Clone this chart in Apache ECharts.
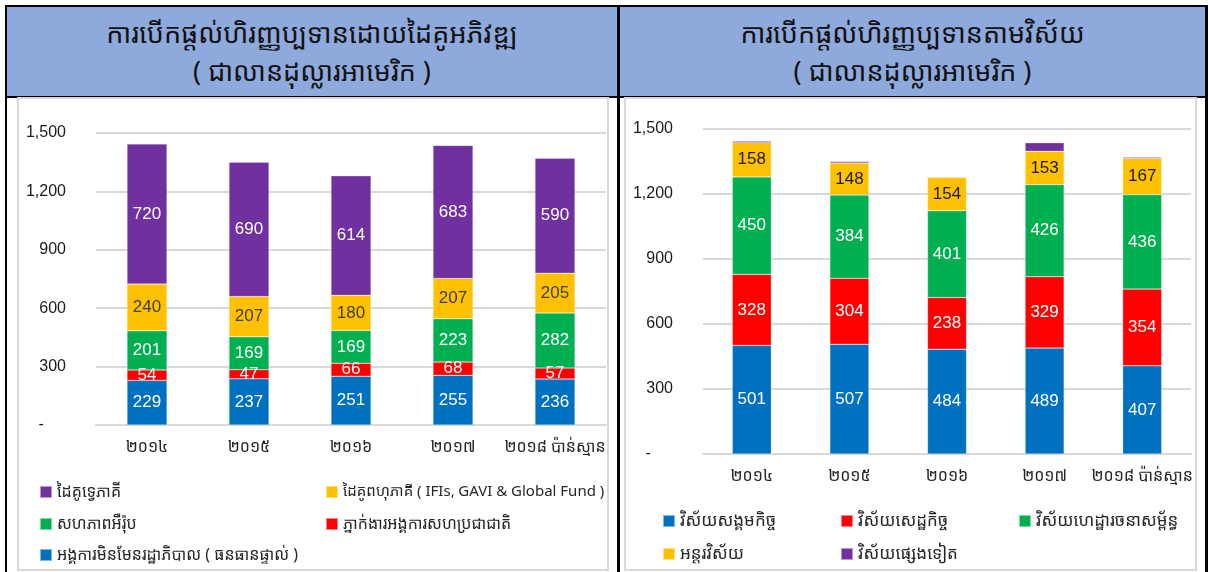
<!DOCTYPE html>
<html>
<head>
<meta charset="utf-8">
<script src="https://cdn.jsdelivr.net/npm/echarts@6/dist/echarts.min.js"></script>
<style>
body { margin: 0; width: 1208px; height: 572px; background: #fff; position: relative; overflow: hidden;
  font-family: "Noto Sans Khmer", "Khmer OS", "DejaVu Sans", sans-serif; }
.blk { position: absolute; background: #000; }
.head { position: absolute; top: 7px; height: 89px; background: #8EA9DB; text-align: center;
  color: #111; font-size: 27px; line-height: 38px; padding-top: 7px; box-sizing: border-box; }
.box { position: absolute; top: 97px; height: 474px; border: 2px solid #d9d9d9; background: #fff; box-sizing: border-box; }
#main { position: absolute; left: 0; top: 0; width: 1208px; height: 572px; }
</style>
</head>
<body>
<!-- frame -->
<div class="blk" style="left:5px;top:5px;width:1203px;height:2px"></div>
<div class="blk" style="left:5px;top:5px;width:2px;height:567px"></div>
<div class="blk" style="left:617px;top:5px;width:3px;height:567px"></div>
<div class="blk" style="left:1205px;top:5px;width:3px;height:567px"></div>
<div class="blk" style="left:5px;top:96px;width:1203px;height:2px"></div>
<div class="head" style="left:7px;width:610px">ការបើកផ្តល់ហិរញ្ញប្បទានដោយដៃគូអភិវឌ្ឍ<br>( ជាលានដុល្លារអាមេរិក )</div>
<div class="head" style="left:620px;width:585px">ការបើកផ្តល់ហិរញ្ញប្បទានតាមវិស័យ<br>( ជាលានដុល្លារអាមេរិក )</div>
<div class="box" style="left:17px;width:592px"></div>
<div class="box" style="left:624px;width:573px"></div>
<div id="main"></div>
<script>
// ឆ្នាំ (categories)
var years = ['២០១៤', '២០១៥', '២០១៦', '២០១៧', '២០១៨ ប៉ាន់ស្មាន'];
var yTicks = [0, 300, 600, 900, 1200, 1500];

// left: by development partner (bottom -> top)
var partnerNames = ['អង្គការមិនមែនរដ្ឋាភិបាល ( ធនធានផ្ទាល់ )', 'ភ្នាក់ងារអង្គការសហប្រជាជាតិ', 'សហភាពអឺរ៉ុប',
	'ដៃគូពហុភាគី ( IFIs, GAVI & Global Fund )', 'ដៃគូទ្វេភាគី'];
var ngo = [229, 237, 251, 255, 236];
var unAgency = [54, 47, 66, 68, 57];
var eu = [201, 169, 169, 223, 282];
var multilateral = [240, 207, 180, 207, 205];
var bilateral = [720, 690, 614, 683, 590];

// right: by sector (bottom -> top)
var sectorNames = ['វិស័យសង្គមកិច្ច', 'វិស័យសេដ្ឋកិច្ច', 'វិស័យហេដ្ឋារចនាសម្ព័ន្ធ', 'អន្តរវិស័យ', 'វិស័យផ្សេងទៀត'];
var social = [501, 507, 484, 489, 407];
var economic = [328, 304, 238, 329, 354];
var infra = [450, 384, 401, 426, 436];
var crossSector = [158, 148, 154, 153, 167];
var otherSector = [7, 7, 3, 39, 6];

var colors = ['#0070C0', '#FF0000', '#00B050', '#FFC000', '#7030A0'];
var khmerFont = '"Noto Sans Khmer", "Khmer OS", "DejaVu Sans", sans-serif';
var numFont = '"Liberation Sans Narrow", "Liberation Sans", Arial, sans-serif';

function bar(name, data, color, idx, labelColor, showLabel, width) {
	return {
		name: name,
		type: 'bar',
		stack: 'total' + idx,
		xAxisIndex: idx,
		yAxisIndex: idx,
		barWidth: width,
		data: data,
		itemStyle: { color: color, borderColor: 'rgba(255,255,255,0.5)', borderWidth: 0.5 },
		label: {
			show: showLabel,
			position: 'inside',
			color: labelColor,
			fontFamily: numFont,
			fontSize: 17
		}
	};
}

function xAx(idx) {
	return {
		type: 'category',
		gridIndex: idx,
		data: years,
		axisTick: { show: false },
		axisLine: { lineStyle: { color: '#d9d9d9', width: 2 } },
		axisLabel: { color: '#262626', fontSize: 16, margin: 14, fontFamily: khmerFont, interval: 0 }
	};
}

function yAx(idx) {
	return {
		type: 'value',
		gridIndex: idx,
		min: yTicks[0],
		max: yTicks[yTicks.length - 1],
		interval: 300,
		axisLine: { show: false },
		axisTick: { show: false },
		splitLine: { lineStyle: { color: '#d9d9d9', width: 2 } },
		axisLabel: {
			color: '#1a1a1a', fontSize: 16, margin: 30, fontFamily: numFont,
			formatter: function (v) { return v == 0 ? '-     ' : v.toLocaleString('en-US'); }
		}
	};
}

// one legend per item so the layout matches the two column grid
function leg(name, left, top, size) {
	return {
		data: [name],
		left: left,
		top: top,
		padding: 0,
		icon: 'rect',
		itemWidth: 12,
		itemHeight: 12,
		selectedMode: false,
		textStyle: { color: '#262626', fontSize: size, fontFamily: khmerFont, lineHeight: 18 }
	};
}

var myChart = echarts.init(document.getElementById('main'));
var option = {
	animation: false,
	grid: [
		{ left: 96, top: 133, width: 510, height: 292 },
		{ left: 703, top: 129, width: 488, height: 325 }
	],
	xAxis: [xAx(0), xAx(1)],
	yAxis: [yAx(0), yAx(1)],
	legend: [
		leg(partnerNames[4], 39, 483, 16),
		leg(partnerNames[3], 325, 483, 15),
		leg(partnerNames[2], 39, 515, 16),
		leg(partnerNames[1], 325, 515, 16),
		leg(partnerNames[0], 39, 546, 16),
		leg(sectorNames[0], 662, 512, 17),
		leg(sectorNames[1], 840, 512, 17),
		leg(sectorNames[2], 1018, 512, 17),
		leg(sectorNames[3], 662, 545, 17),
		leg(sectorNames[4], 840, 545, 17)
	],
	series: [
		bar(partnerNames[0], ngo, colors[0], 0, '#fff', true, 40),
		bar(partnerNames[1], unAgency, colors[1], 0, '#fff', true, 40),
		bar(partnerNames[2], eu, colors[2], 0, '#fff', true, 40),
		bar(partnerNames[3], multilateral, colors[3], 0, '#404040', true, 40),
		bar(partnerNames[4], bilateral, colors[4], 0, '#fff', true, 40),
		bar(sectorNames[0], social, colors[0], 1, '#fff', true, 39),
		bar(sectorNames[1], economic, colors[1], 1, '#fff', true, 39),
		bar(sectorNames[2], infra, colors[2], 1, '#fff', true, 39),
		bar(sectorNames[3], crossSector, colors[3], 1, '#1a1a1a', true, 39),
		bar(sectorNames[4], otherSector, colors[4], 1, '#fff', false, 39)
	]
};
myChart.setOption(option, true);
</script>
</body>
</html>
